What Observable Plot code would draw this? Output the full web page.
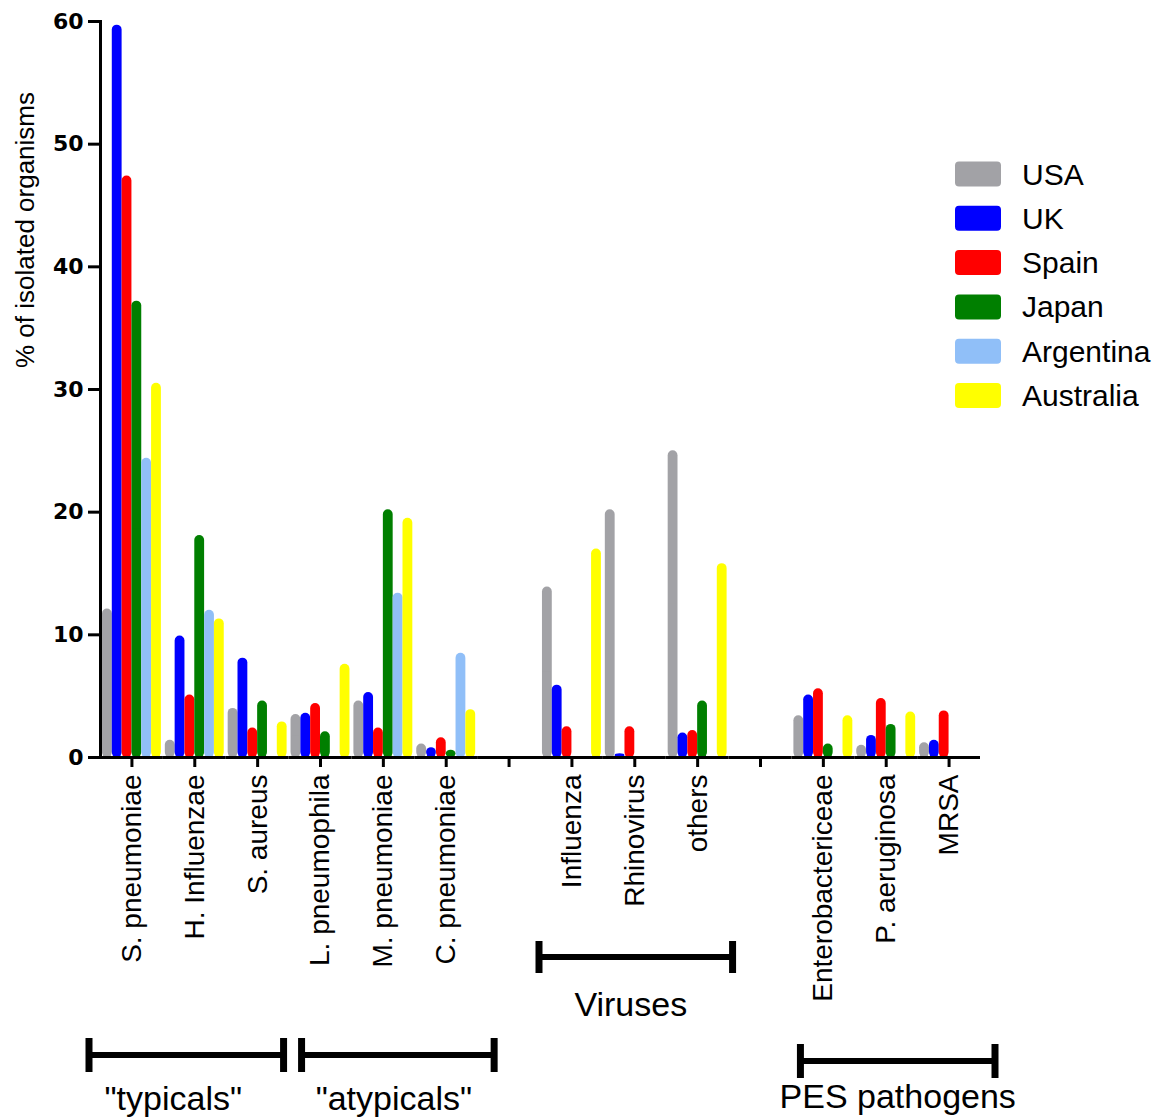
<!DOCTYPE html>
<html><head><meta charset="utf-8">
<script src="https://cdn.jsdelivr.net/npm/d3@7"></script>
<script src="https://cdn.jsdelivr.net/npm/@observablehq/plot@0.6"></script>
<style>body{margin:0;background:#fff}#chart{width:1164px;height:1117px}</style>
</head><body><div id="chart"></div>
<script>
// ---- data ----
const organisms = ["S. pneumoniae","H. Influenzae","S. aureus","L. pneumophila","M. pneumoniae","C. pneumoniae","gap1","Influenza","Rhinovirus","others","gap2","Enterobactericeae","P. aeruginosa","MRSA"];
const countries = ["USA","UK","Spain","Japan","Argentina","Australia"];
const colors = ["#a2a2a6","#0000ff","#ff0000","#007f00","#90bff8","#ffff00"];
const usa       = [12.1, 1.4, 4.0, 3.5, 4.6, 1.1, null, 13.9, 20.2, 25.0, null, 3.4, 1.0, 1.2];
const uk        = [59.7, 9.9, 8.1, 3.6, 5.3, 0.8, null,  5.9,  0.3,  2.0, null, 5.1, 1.8, 1.4];
const spain     = [47.4, 5.1, 2.4, 4.4, 2.4, 1.6, null,  2.5,  2.5,  2.2, null, 5.6, 4.8, 3.8];
const japan     = [37.2,18.1, 4.6, 2.1,20.2, 0.6, null,  0,    0,    4.6, null, 1.1, 2.7, 0];
const argentina = [24.4,12.0, 0,   0,  13.4, 8.5, null,  0,    0,    0,   null, 0,   0,   0];
const australia = [30.5,11.3, 2.9, 7.6,19.5, 3.9, null, 17.0,  0,   15.8, null, 3.4, 3.7, 0];
const yTicks = [0, 10, 20, 30, 40, 50, 60];
const yTitle = "% of isolated organisms";
const groupLabels = ["\"typicals\"", "\"atypicals\"", "Viruses", "PES pathogens"];
const groupFirst  = ["S. pneumoniae", "L. pneumophila", "Influenza", "Enterobactericeae"];
const groupLast   = ["S. aureus", "C. pneumoniae", "others", "MRSA"];

// ---- build table (all rows kept so that every slot, including the gaps, is a non-empty facet) ----
const series = {USA: usa, UK: uk, Spain: spain, Japan: japan, Argentina: argentina, Australia: australia};
const data = countries.flatMap(c => organisms.map((o, i) => ({organism: o, country: c, value: series[c][i]})));
const shown = d => d.value != null && d.value > 0;

const FONT = "'Liberation Sans', Arial, sans-serif";
const chart = Plot.plot({
  width: 1164, height: 1117,
  marginLeft: 100, marginRight: 184, marginTop: 21, marginBottom: 360,
  style: {fontFamily: FONT, color: "#000", background: "#fff", overflow: "visible"},
  fx: {domain: organisms, padding: 0, round: false},
  x: {domain: countries, paddingInner: 0, paddingOuter: 0.2, round: false, axis: null},
  y: {domain: [0, 60]},
  color: {domain: countries, range: colors},
  marks: [
    // rounded-top bars
    Plot.barY(data, {fx: "organism", x: "country", y: d => shown(d) ? d.value : NaN, fill: "country", rx: 4.9}),
    // square off the lower part of each bar (inset so its edges stay inside the rounded bar)
    Plot.barY(data, {fx: "organism", x: "country", y: d => shown(d) ? d.value / 2 : NaN, fill: "country", insetLeft: 1, insetRight: 1}),
    Plot.ruleY([0], {stroke: "#000", strokeWidth: 3}),
    Plot.frame({anchor: "left", facetAnchor: "left", stroke: "#000", strokeWidth: 3}),
    Plot.axisY({ticks: yTicks, tickSize: 12, tickPadding: 5, stroke: "#000", strokeWidth: 3, fontSize: 22, fontWeight: "bold", fontFamily: "'DejaVu Sans', sans-serif", label: null}),
    Plot.axisFx({anchor: "bottom", tickRotate: -90, tickSize: 10, tickPadding: 7, stroke: "#000", strokeWidth: 3, fontSize: 28, label: null,
      tickFormat: d => d.startsWith("gap") ? "" : d})
  ]
});
document.getElementById("chart").appendChild(chart);

// ---- annotations (positioned with the chart's own scales) ----
const svg = d3.select(chart);
const fxs = chart.scale("fx");
const color = chart.scale("color");
const fxStart = v => fxs.apply(v);
const bw = fxs.bandwidth;

// brackets: [offsetLeft, offsetRight, lineY, capHalf, labelDx, labelY]
const bracketStyle = [
  [-11, -5, 1055, 17, -13, 1110],
  [13, 17, 1055, 17, -4, 1110],
  [-1, 4, 957, 16, -5, 1016],
  [9, 15, 1061, 17, 0, 1108]
];
const ann = svg.append("g").attr("stroke", "#000");
groupLabels.forEach((lab, i) => {
  const [oL, oR, ly, ch, ldx, lty] = bracketStyle[i];
  const x1 = fxStart(groupFirst[i]) + oL;
  const x2 = fxStart(groupLast[i]) + bw + oR;
  ann.append("line").attr("x1", x1).attr("x2", x2).attr("y1", ly).attr("y2", ly).attr("stroke-width", 6);
  ann.append("line").attr("x1", x1).attr("x2", x1).attr("y1", ly - ch).attr("y2", ly + ch).attr("stroke-width", 7);
  ann.append("line").attr("x1", x2).attr("x2", x2).attr("y1", ly - ch).attr("y2", ly + ch).attr("stroke-width", 7);
  svg.append("text").attr("x", (x1 + x2) / 2 + ldx).attr("y", lty)
    .attr("text-anchor", "middle").attr("font-size", 34).attr("fill", "#000")
    .attr("font-family", FONT).text(lab);
});

// y title
svg.append("text").attr("transform", "translate(25,230) rotate(-90)")
  .attr("text-anchor", "middle").attr("dominant-baseline", "central")
  .attr("font-size", 26).attr("fill", "#000")
  .attr("font-family", FONT).text(yTitle);

// legend
const lg = svg.append("g");
countries.forEach((c, i) => {
  const cy = 174 + 44.3 * i;
  lg.append("rect").attr("x", 955).attr("y", cy - 12.5).attr("width", 46).attr("height", 25)
    .attr("rx", 4).attr("fill", color.apply(c));
  lg.append("text").attr("x", 1022).attr("y", cy).attr("dominant-baseline", "central")
    .attr("text-anchor", "start").attr("font-size", 30).attr("fill", "#000")
    .attr("font-family", FONT).text(c);
});
</script></body></html>
